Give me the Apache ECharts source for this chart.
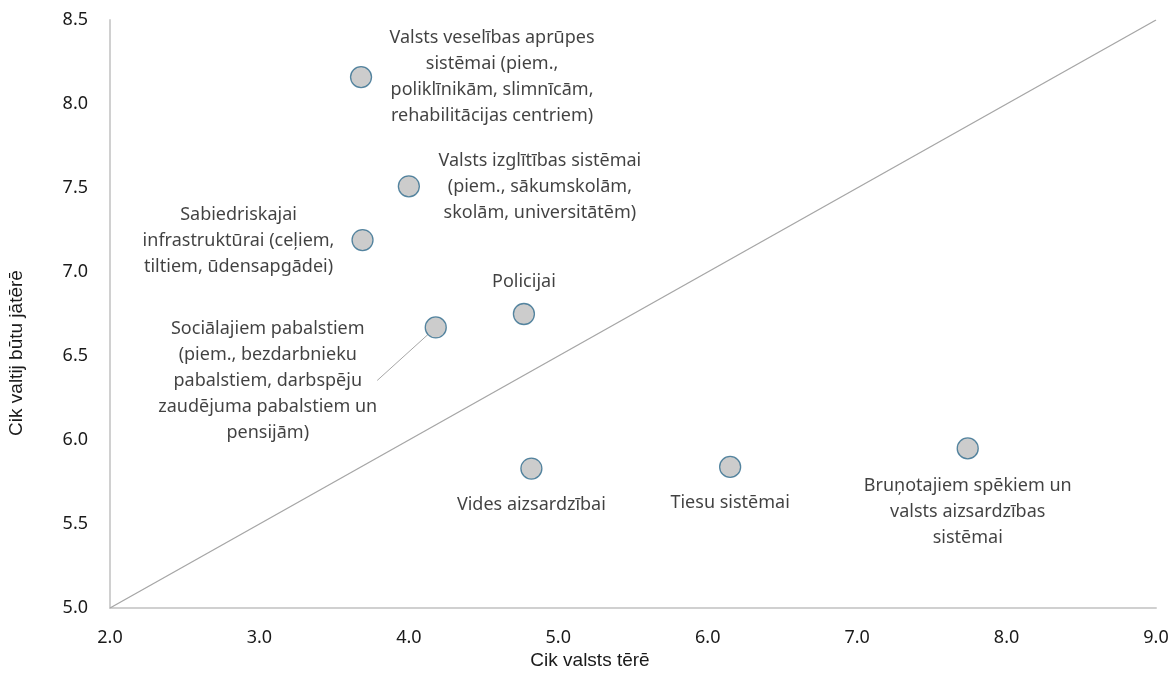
<!DOCTYPE html>
<html>
<head>
<meta charset="utf-8">
<script src="https://cdn.jsdelivr.net/npm/echarts@6/dist/echarts.min.js"></script>
<style>
  html, body { margin: 0; padding: 0; background: #fff; }
  #chart { width: 1176px; height: 693px; }
</style>
</head>
<body>
<div id="chart"></div>
<script>
// Spending areas: how much the state spends (x) vs. how much it should spend (y)
const categories = [
  'Valsts veselības aprūpes\nsistēmai (piem.,\npoliklīnikām, slimnīcām,\nrehabilitācijas centriem)',
  'Valsts izglītības sistēmai\n(piem., sākumskolām,\nskolām, universitātēm)',
  'Sabiedriskajai\ninfrastruktūrai (ceļiem,\ntiltiem, ūdensapgādei)',
  'Policijai',
  'Sociālajiem pabalstiem\n(piem., bezdarbnieku\npabalstiem, darbspēju\nzaudējuma pabalstiem un\npensijām)',
  'Vides aizsardzībai',
  'Tiesu sistēmai',
  'Bruņotajiem spēkiem un\nvalsts aizsardzības\nsistēmai'
];
const spends = [3.68, 4.00, 3.69, 4.77, 4.18, 4.82, 6.15, 7.74];
const shouldSpend = [8.16, 7.51, 7.19, 6.75, 6.67, 5.83, 5.84, 5.95];

// Label placement relative to each marker (px)
const labelOffsets = [
  [131, 0], [131, 1], [-124, 1], [0, -32], [-168, 53], [0, 36], [0, 36], [0, 63]
];

// Reference line where spending equals the desired level (y = x / 2 + 4)
const refLine = [[2, 5], [9, 8.5]];

const xTicks = { min: 2, max: 9, interval: 1 };
const yTicks = { min: 5, max: 8.5, interval: 0.5 };

const FONT = 'Noto Sans';
const chart = echarts.init(document.getElementById('chart'));

const points = spends.map((x, i) => ({
  value: [x, shouldSpend[i]],
  name: categories[i],
  label: { offset: labelOffsets[i] },
  labelLine: { show: i === 4 }
}));

chart.setOption({
  animation: false,
  grid: { left: 110, right: 20, top: 20, bottom: 85 },
  xAxis: {
    type: 'value',
    min: xTicks.min, max: xTicks.max, interval: xTicks.interval,
    axisLine: { show: true, lineStyle: { color: '#d0d0d0', width: 2 } },
    axisTick: { show: false },
    splitLine: { show: false },
    axisLabel: {
      margin: 21, color: '#1a1a1a', fontFamily: FONT, fontSize: 18,
      formatter: v => v.toFixed(1)
    }
  },
  yAxis: {
    type: 'value',
    min: yTicks.min, max: yTicks.max, interval: yTicks.interval,
    axisLine: { show: true, lineStyle: { color: '#d0d0d0', width: 2 } },
    axisTick: { show: false },
    splitLine: { show: false },
    axisLabel: {
      margin: 22, color: '#1a1a1a', fontFamily: FONT, fontSize: 18,
      formatter: v => v.toFixed(1)
    }
  },
  graphic: [
    {
      type: 'text', x: 590, y: 661,
      style: {
        text: 'Cik valsts tērē', fontFamily: 'Liberation Sans', fontSize: 19, fill: '#1a1a1a',
        align: 'center', verticalAlign: 'middle'
      }
    },
    {
      type: 'text', x: 17, y: 353, rotation: Math.PI / 2,
      style: {
        text: 'Cik valtij būtu jātērē', fontFamily: 'Liberation Sans', fontSize: 19, fill: '#1a1a1a',
        align: 'center', verticalAlign: 'middle'
      }
    }
  ],
  series: [
    {
      type: 'line',
      data: refLine,
      symbol: 'none',
      silent: true,
      lineStyle: { color: '#a6a6a6', width: 1.3 },
      z: 1
    },
    {
      type: 'scatter',
      data: points,
      symbol: 'circle',
      symbolSize: 21,
      itemStyle: { color: '#bfbfbf', borderColor: '#2e6a8c', borderWidth: 1.3 },
      label: {
        show: true,
        position: 'inside',
        formatter: p => p.name,
        align: 'center',
        verticalAlign: 'middle',
        color: '#111',
        fontFamily: FONT,
        fontSize: 18,
        lineHeight: 26
      },
      labelLine: { lineStyle: { color: '#a6a6a6', width: 1 } },
      z: 3
    }
  ]
});
</script>
</body>
</html>
